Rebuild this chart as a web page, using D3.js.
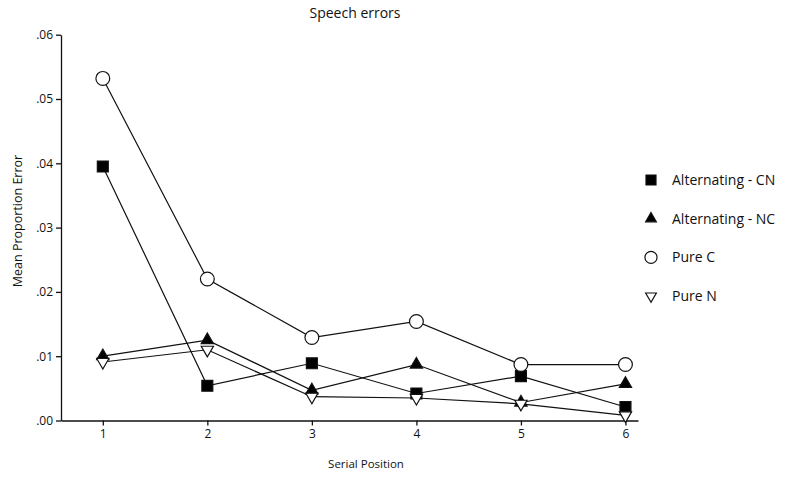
<!DOCTYPE html>
<html>
<head>
<meta charset="utf-8">
<script src="https://cdn.jsdelivr.net/npm/d3@7"></script>
<style>
  body { margin: 0; background: #fff; }
  text { font-family: "Open Sans", "Noto Sans", sans-serif; fill: #111; }
</style>
</head>
<body>
<div class="chart"></div>
<script>
var positions = [1, 2, 3, 4, 5, 6];
var altCN = [0.0395, 0.0054, 0.0089, 0.0042, 0.0069, 0.0021];
var altNC = [0.0100, 0.0125, 0.0047, 0.0087, 0.0028, 0.0057];
var pureC = [0.0532, 0.0220, 0.0129, 0.0154, 0.0087, 0.0087];
var pureN = [0.0091, 0.0110, 0.0037, 0.0035, 0.0026, 0.0008];
var seriesNames = ["Alternating - CN", "Alternating - NC", "Pure C", "Pure N"];
var yTicks = [0, 0.01, 0.02, 0.03, 0.04, 0.05, 0.06];

var width = 785, height = 479;

var svg = d3.select(".chart")
    .append("svg")
    .attr("width", width)
    .attr("height", height);

var x = d3.scaleLinear()
    .domain([0.6, 6.12])
    .range([61, 638]);

var y = d3.scaleLinear()
    .domain([0, 0.06])
    .range([420.5, 34.7]);

//axes
var xAxis = svg.append("g")
    .attr("transform", "translate(0," + y(0) + ")")
    .call(d3.axisBottom(x).tickValues(positions).tickSize(5).tickSizeOuter(0).tickFormat(d3.format("d")));
var yAxis = svg.append("g")
    .attr("transform", "translate(" + x(0.6) + ",0)")
    .call(d3.axisLeft(y).tickValues(yTicks).tickSize(5).tickSizeOuter(0)
        .tickFormat(function (d) { return d3.format(".2f")(d).replace(/^0/, ""); }));

svg.selectAll(".domain, .tick line")
    .attr("stroke", "#111")
    .attr("stroke-width", 1.3);
svg.selectAll(".tick text")
    .attr("font-size", "12px")
    .attr("font-family", "'Open Sans', 'Noto Sans', sans-serif")
    .attr("fill", "#111");
xAxis.selectAll(".tick text").attr("dy", "0.8em");

//titles
svg.append("text")
    .attr("x", 355).attr("y", 18)
    .attr("text-anchor", "middle")
    .attr("font-size", "14px")
    .text("Speech errors");
svg.append("text")
    .attr("x", 366).attr("y", 468)
    .attr("text-anchor", "middle")
    .attr("font-size", "11.5px")
    .text("Serial Position");
svg.append("text")
    .attr("transform", "translate(22,221) rotate(-90)")
    .attr("text-anchor", "middle")
    .attr("font-size", "12.5px")
    .text("Mean Proportion Error");

//symbols
var symbolDefs = [
    { shape: d3.symbolSquare, size: 120, legendSize: 100, fill: "#000" },
    { shape: d3.symbolTriangle, size: 65, legendSize: 50, fill: "#000" },
    { shape: d3.symbolCircle, size: 150, legendSize: 115, fill: "#fff" },
    { shape: d3.symbolTriangle, size: 65, legendSize: 50, fill: "#fff", rotate: 180 }
];

var allSeries = [altCN, altNC, pureC, pureN];

var line = d3.line()
    .x(function (d, i) { return x(positions[i]); })
    .y(function (d) { return y(d); });

allSeries.forEach(function (vals) {
    svg.append("path")
        .datum(vals)
        .attr("d", line)
        .attr("fill", "none")
        .attr("stroke", "#111")
        .attr("stroke-width", 1.2);
});

function drawMarker(g, def, size, cx, cy) {
    g.append("path")
        .attr("d", d3.symbol().type(def.shape).size(size)())
        .attr("transform", "translate(" + cx + "," + cy + ")" + (def.rotate ? " rotate(" + def.rotate + ")" : ""))
        .attr("fill", def.fill)
        .attr("stroke", "#111")
        .attr("stroke-width", 1.2);
}

allSeries.forEach(function (vals, s) {
    var g = svg.append("g");
    vals.forEach(function (v, i) {
        drawMarker(g, symbolDefs[s], symbolDefs[s].size, x(positions[i]), y(v));
    });
});

//legend
var legend = svg.append("g");
seriesNames.forEach(function (name, i) {
    var ly = 180 + i * 38.7;
    drawMarker(legend, symbolDefs[i], symbolDefs[i].legendSize, 651, ly);
    legend.append("text")
        .attr("x", 672)
        .attr("y", ly)
        .attr("dy", "0.35em")
        .attr("font-size", "14px")
        .text(name);
});
</script>
</body>
</html>
